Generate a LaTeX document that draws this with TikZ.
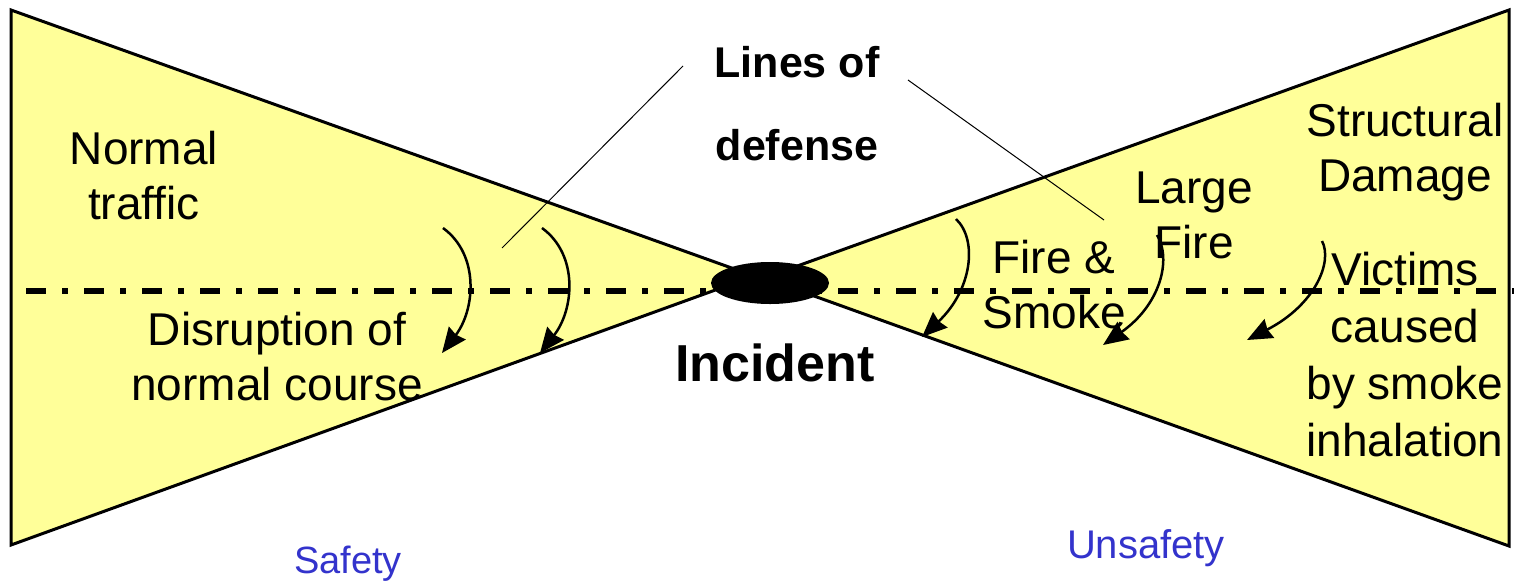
\documentclass[tikz,border=0pt]{standalone}
\usepackage{fontspec}
\setmainfont{Liberation Sans}
\usetikzlibrary{arrows.meta,shapes.geometric}
\definecolor{bowyellow}{RGB}{255,255,153}
\definecolor{labelblue}{RGB}{51,51,204}
\begin{document}
\begin{tikzpicture}[x=1pt,y=-1pt,
  wedge/.style={fill=bowyellow,draw=black,line width=3pt,line join=miter},
  axisline/.style={draw=black,line width=6pt,dash pattern=on 20pt off 16pt on 6pt off 16pt},
  leader/.style={draw=black,line width=1pt},
  curvarrow/.style={draw=black,line width=2.5pt,-{Stealth[length=25pt,width=21pt,inset=2pt]}},
  txt/.style={inner sep=0pt,align=center,font=\fontsize{46}{55}\selectfont},
  txtv/.style={inner sep=0pt,align=center,font=\fontsize{46}{57}\selectfont},
  boldtxt/.style={inner sep=0pt,align=center,font=\fontsize{43}{83}\selectfont\bfseries},
  sidetxt/.style={inner sep=0pt,text=labelblue,anchor=base}
]
\useasboundingbox (0,0) rectangle (1514,584);

% bow-tie wedges
\draw[wedge] (11,10) -- (754,276) -- (11,545) -- cycle;
\draw[wedge] (1509,10) -- (764,278) -- (1509,546) -- cycle;

% dash-dot axis
\coordinate (axL) at (26,291);
\coordinate (axR) at (1520,291);
\draw[axisline] (axL) -- (axR);

% leader lines from "Lines of defense"
\coordinate (llA) at (683,66);
\coordinate (llB) at (502,248);
\coordinate (lrA) at (908,80);
\coordinate (lrB) at (1104,220);
\draw[leader] (llA) -- (llB);
\draw[leader] (lrA) -- (lrB);

% curved arrows (lines of defense)
\coordinate (a1s) at (443,228); \coordinate (a1e) at (442,353);
\coordinate (a2s) at (542,228); \coordinate (a2e) at (540,353);
\coordinate (a3s) at (956,219); \coordinate (a3e) at (922,337);
\coordinate (a4s) at (1157,235); \coordinate (a4e) at (1103,345);
\coordinate (a5s) at (1322,241); \coordinate (a5e) at (1247,340);
\draw[curvarrow] (a1s) .. controls (480,255) and (475,310) .. (a1e);
\draw[curvarrow] (a2s) .. controls (579,255) and (574,310) .. (a2e);
\draw[curvarrow] (a3s) .. controls (978,240) and (972,290) .. (a3e);
\draw[curvarrow] (a4s) .. controls (1172,260) and (1160,305) .. (a4e);
\draw[curvarrow] (a5s) .. controls (1333,262) and (1315,305) .. (a5e);

% incident knot
\node[ellipse,fill=black,minimum width=118pt,minimum height=42pt,inner sep=0pt] (knot) at (770,283) {};

% texts
\node[txt] (normal) at (144,180.5) {\strut Normal\\\strut traffic};
\node[txt] (disrupt) at (277,361.5) {\strut Disruption of\\\strut normal course};
\node[txt] (struct) at (1405,152.5) {\strut Structural\\\strut Damage};
\node[txt] (large) at (1194,219.5) {\strut Large\\\strut Fire};
\node[txt] (firesmoke) at (1054,289.5) {\strut Fire \&\\\strut Smoke};
\node[txtv] (victims) at (1405,359.1) {\strut Victims\\\strut caused\\\strut by smoke\\\strut inhalation};
\node[boldtxt] (lines) at (797,101.9) {\strut Lines of\\\strut defense};
\node[inner sep=0pt,anchor=base,font=\fontsize{52}{60}\selectfont\bfseries] (incident) at (775,381) {Incident};
\node[sidetxt,font=\fontsize{38}{44}\selectfont] (safety) at (348,573) {Safety};
\node[sidetxt,font=\fontsize{40}{46}\selectfont] (unsafety) at (1146,558) {Unsafety};
\end{tikzpicture}
\end{document}
